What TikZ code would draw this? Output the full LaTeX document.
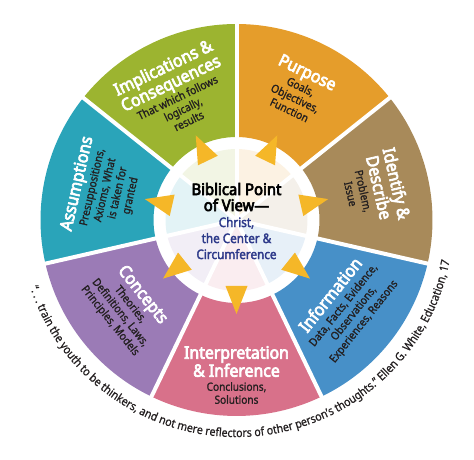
\documentclass[tikz,border=0pt]{standalone}
\usepackage{fontspec}
\setmainfont{Noto Sans}
\newfontfamily\condfont[FakeStretch=0.9, FakeBold=1.2]{Noto Sans}
\newfontfamily\condbold[FakeStretch=0.93, FakeBold=4]{Noto Sans}
\newfontfamily\condmed[FakeStretch=0.9, FakeBold=2.5]{Noto Sans}
\newfontfamily\quotefont[FakeStretch=0.9, FakeBold=0.8]{Noto Sans}
\usetikzlibrary{decorations.text}
\definecolor{cPurpose}{HTML}{E59D2B}
\definecolor{cIdentify}{HTML}{A88A5A}
\definecolor{cInformation}{HTML}{4790C8}
\definecolor{cInterp}{HTML}{D8718A}
\definecolor{cConcepts}{HTML}{9B7BB6}
\definecolor{cAssump}{HTML}{2AA4B9}
\definecolor{cImpl}{HTML}{9CB430}
\definecolor{cTri}{HTML}{F5B728}
\definecolor{cBlue}{HTML}{2E3A8A}
\definecolor{cSub}{HTML}{231F20}
\newcommand\ttl[1]{{\color{white}\condbold\fontsize{17}{18.5}\selectfont #1}}
\newcommand\ctitle{\condbold\fontsize{16}{17}\selectfont}
\newcommand\cblue{\condmed\fontsize{13}{15}\selectfont\color{cBlue}}
\tikzset{
  sectortext/.style={align=center, text=cSub, font=\condfont\fontsize{11.2}{13}\selectfont, inner sep=0pt},
  divider/.style={white, line width=4pt},
  pointer/.style={fill=cTri},
}
\begin{document}
\begin{tikzpicture}[x=1pt,y=1pt]
\useasboundingbox (0,0) rectangle (474,460);
\begin{scope}[shift={(236.5,240)}]
\foreach \c/\col in {64.286/cPurpose, 12.857/cIdentify, -38.571/cInformation, -90/cInterp, -141.429/cConcepts, -192.857/cAssump, 115.714/cImpl}{
  \fill[\col] (\c-25.714:83pt) arc[start angle=\c-25.714, end angle=\c+25.714, radius=83pt] -- (\c+25.714:196pt) arc[start angle=\c+25.714, end angle=\c-25.714, radius=196pt] -- cycle;
  \fill[\col!13!white] (0,0) -- (\c-25.714:71pt) arc[start angle=\c-25.714, end angle=\c+25.714, radius=71pt] -- cycle;
}
\foreach \b in {90, 38.571, -12.857, -64.286, -115.714, -167.143, 141.429}{
  \draw[divider] (0,0) -- (\b:200pt);
}
\foreach \c in {64.286, 12.857, -38.571, -90, -141.429, -192.857, 115.714}{
  \fill[pointer, rotate=\c] (94,0) -- (66,11) -- (66,-11) -- cycle;
}
\node[align=center, inner sep=0pt, font=\fontsize{13}{16}\selectfont] (center) at (0,-1) {{\ctitle Biblical Point}\\{\ctitle of View—}\\{\cblue Christ,}\\{\cblue the Center \&}\\{\cblue Circumference}};

\node[sectortext, rotate=-25.714] (purpose) at (64.286:144pt) {\ttl{Purpose}\\[1pt]Goals,\\Objectives,\\Function};
\node[sectortext, rotate=-77.143] (identify) at (12.857:142pt) {\ttl{Identify \&}\\\ttl{Describe}\\[1pt]Problem,\\Issue};
\node[sectortext, rotate=51.429] (information) at (-38.571:141pt) {\ttl{Information}\\[1pt]Data, Facts, Evidence,\\Observations,\\Experiences, Reasons};
\node[sectortext] (interpretation) at (-90:155pt) {\ttl{Interpretation}\\[0pt]\ttl{\& Inference}\\[1pt]Conclusions,\\Solutions};
\node[sectortext, rotate=-51.429] (concepts) at (-141.429:140pt) {\ttl{Concepts}\\[1pt]Theories,\\Definitions, Laws,\\Principles, Models};
\node[sectortext, rotate=77.143] (assumptions) at (167.143:137pt) {\ttl{Assumptions}\\[1pt]Presuppositions,\\Axioms, What\\is taken for\\granted};
\node[sectortext, rotate=25.714] (implications) at (115.714:141pt) {\ttl{Implications \&}\\\ttl{Consequences}\\[1pt]That which follows\\logically,\\results};

\path[decorate, decoration={text along path, text align=left, text color=cSub,
  text={|\quotefont\fontsize{11.7}{13}\selectfont|“. . . train the youth to be thinkers, and not mere reflectors of other person’s thoughts.” Ellen G. White, Education, 17}}]
  (-162:217pt) arc[start angle=-162, end angle=5, radius=217pt];
\end{scope}
\end{tikzpicture}
\end{document}
